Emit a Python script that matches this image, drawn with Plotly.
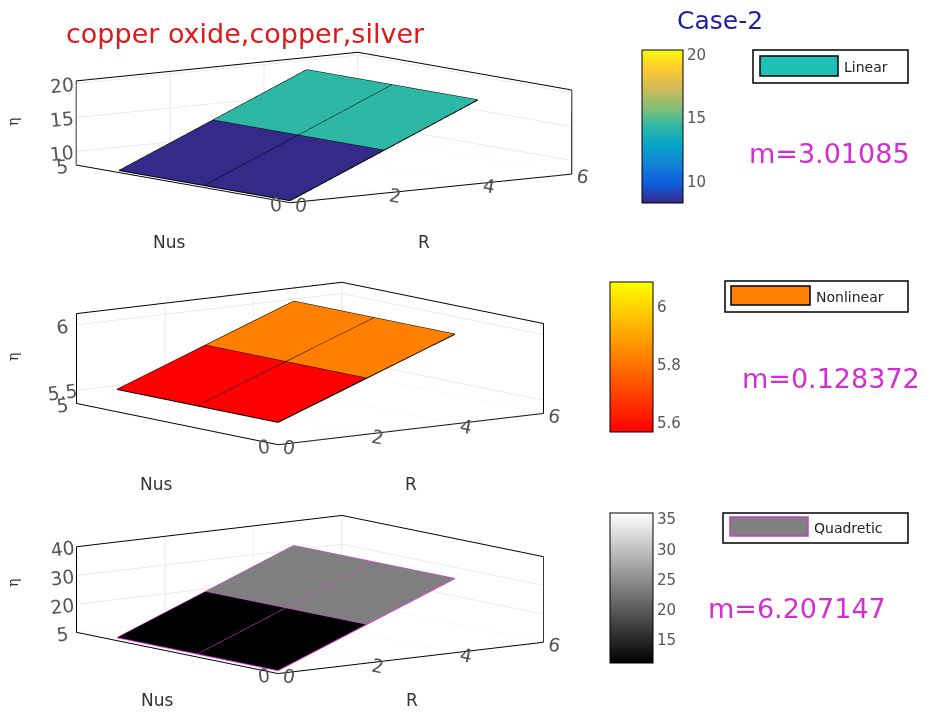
import plotly.graph_objects as go

# ---------------- data ----------------
R = [0, 2, 4]
Nus = [0, 2, 4]
# eta[i][j] : Nus index i, R index j
eta_linear = [[8.30, 14.32, 20.34],
              [8.30, 14.32, 20.34],
              [8.30, 14.32, 20.34]]
eta_nonlinear = [[5.570, 5.827, 6.083],
                 [5.570, 5.827, 6.083],
                 [5.570, 5.827, 6.083]]
eta_quad = [[11.20, 23.61, 36.03],
            [11.20, 23.61, 36.03],
            [11.20, 23.61, 36.03]]

slopes = ["m=3.01085", "m=0.128372", "m=6.207147"]
legend_names = ["Linear", "Nonlinear", "Quadretic"]
cbar_ticks = [[10, 15, 20], [5.6, 5.8, 6], [15, 20, 25, 30, 35]]
z_ticks = [[10, 15, 20], [5.5, 6], [20, 30, 40]]
z_ranges = [[8.0, 20.4], [5.40, 6.085], [10.2, 40]]
R_range = [0, 6]
Nus_range = [0, 5]
R_ticks = [0, 2, 4, 6]
Nus_ticks = [0, 5]

W, H = 936, 715

parula = [[0.0, "#352a87"], [0.125, "#0f5cdd"], [0.25, "#1481d6"], [0.375, "#06a4ca"],
          [0.5, "#2eb7a4"], [0.625, "#87bf77"], [0.75, "#d1bb59"], [0.875, "#fec832"],
          [1.0, "#f9fb0e"]]
autumn = [[0.0, "rgb(255,0,0)"], [1.0, "rgb(255,255,0)"]]
gray = [[0.0, "rgb(0,0,0)"], [1.0, "rgb(255,255,255)"]]


def px(x, y):
    return x / W, 1 - y / H


def flat_expand(xs, ys, zz):
    """Duplicate interior grid lines so each face gets one colour (MATLAB flat shading)."""
    nx, ny = len(xs), len(ys)
    ix = [(k + 1) // 2 for k in range(2 * nx - 2)]
    iy = [(k + 1) // 2 for k in range(2 * ny - 2)]
    fx = [k // 2 for k in range(2 * nx - 2)]
    fy = [k // 2 for k in range(2 * ny - 2)]
    X = [xs[i] for i in ix]
    Y = [ys[j] for j in iy]
    Z = [[zz[j][i] for i in ix] for j in iy]
    C = [[zz[j][i] for i in fx] for j in fy]
    return X, Y, Z, C


def mesh_lines(xs, ys, zz):
    lx, ly, lz = [], [], []
    for j, yv in enumerate(ys):
        for i, xv in enumerate(xs):
            lx.append(xv); ly.append(yv); lz.append(zz[j][i])
        lx.append(None); ly.append(None); lz.append(None)
    for i, xv in enumerate(xs):
        for j, yv in enumerate(ys):
            lx.append(xv); ly.append(yv); lz.append(zz[j][i])
        lx.append(None); ly.append(None); lz.append(None)
    return lx, ly, lz


fig = go.Figure()

datasets = [eta_linear, eta_nonlinear, eta_quad]
scales = [parula, autumn, gray]
edge_colors = ["black", "black", "#e040e0"]
cbar_boxes = [(642, 50, 41, 153), (610, 282, 43, 150), (610, 513, 43, 150)]
# box centres in px (x, y), zoom factors, z-aspect factors, camera elevation factors
box_centres = [(324, 127), (310, 363), (310, 594)]
zooms = [3.29, 3.10, 3.10]
zfac = [0.24, 0.273, 0.26]
elev = [0.134, 0.156, 0.156]
DOM_W, DOM_H = 0.66, 0.30

tick_font = dict(family="DejaVu Sans, Liberation Sans", size=15, color="#555555")
label_font = dict(family="DejaVu Sans, Liberation Sans", size=17, color="#333333")

for k in range(3):
    X, Y, Z, C = flat_expand(R, Nus, datasets[k])
    zmin = min(min(r) for r in datasets[k])
    zmax = max(max(r) for r in datasets[k])
    cx, cy, cw, ch = cbar_boxes[k]
    sc = "scene" if k == 0 else f"scene{k+1}"
    fig.add_trace(go.Surface(
        x=X, y=Y, z=Z, surfacecolor=C, colorscale=scales[k], cmin=zmin, cmax=zmax,
        scene=sc, showscale=True,
        lighting=dict(ambient=1, diffuse=0, specular=0, roughness=1, fresnel=0),
        colorbar=dict(x=cx / W, xanchor="left", y=1 - (cy + ch / 2) / H, yanchor="middle",
                      thickness=cw, thicknessmode="pixels", len=ch, lenmode="pixels",
                      outlinecolor="black", outlinewidth=1, tickvals=cbar_ticks[k],
                      ticks="", tickfont=tick_font, xpad=0, ypad=0),
        hoverinfo="skip",
    ))
    lx, ly, lz = mesh_lines(R, Nus, datasets[k])
    fig.add_trace(go.Scatter3d(x=lx, y=ly, z=lz, mode="lines", scene=sc,
                               line=dict(color=edge_colors[k], width=2),
                               showlegend=False, hoverinfo="skip"))

axis_common = dict(showbackground=False, showgrid=True, gridcolor="#d9d9d9", gridwidth=1,
                   zeroline=False, showline=True, linecolor="black", linewidth=2,
                   mirror=True, ticks="", showspikes=False, tickfont=tick_font,
                   title_text="")

EYE = 9.0
for k in range(3):
    bx, by = box_centres[k]
    xc, yc = px(bx, by)
    s = zooms[k]
    sc = dict(
        domain=dict(x=[xc - DOM_W / 2, xc + DOM_W / 2], y=[yc - DOM_H / 2, yc + DOM_H / 2]),
        xaxis=dict(axis_common, range=R_range, tickvals=R_ticks),
        yaxis=dict(axis_common, range=Nus_range, tickvals=Nus_ticks),
        zaxis=dict(axis_common, range=z_ranges[k], tickvals=z_ticks[k]),
        aspectmode="manual", aspectratio=dict(x=s, y=s, z=zfac[k] * s),
        camera=dict(eye=dict(x=-0.60 * EYE, y=-0.79 * EYE, z=elev[k] * EYE),
                    center=dict(x=0, y=0, z=0), up=dict(x=0, y=0, z=1),
                    projection=dict(type="orthographic")),
    )
    fig.update_layout(**{("scene" if k == 0 else f"scene{k+1}"): sc})

# ---------------- texts ----------------
ann = []
x0, y0 = px(245, 33)
ann.append(dict(x=x0, y=y0, xanchor="center", yanchor="middle", text="copper oxide,copper,silver",
                showarrow=False,
                font=dict(family="DejaVu Sans", size=27, color="#e01818")))
x0, y0 = px(720, 20)
ann.append(dict(x=x0, y=y0, xanchor="center", yanchor="middle", text="Case-2", showarrow=False,
                font=dict(family="DejaVu Sans", size=25, color="#1c1ca8")))
m_pos = [(829, 153), (831, 378), (797, 608)]
for k in range(3):
    x0, y0 = px(*m_pos[k])
    ann.append(dict(x=x0, y=y0, xanchor="center", yanchor="middle", text=slopes[k],
                    showarrow=False,
                    font=dict(family="DejaVu Sans", size=27, color="#d22ed2")))

# axis titles (placed below each 3-D box like MATLAB's xlabel / ylabel / zlabel)
nus_pos = [(169, 242), (156, 484), (157, 700)]
r_pos = [(424, 242), (411, 484), (412, 700)]
eta_pos = [(13, 122), (13, 357), (13, 583)]
for k in range(3):
    x0, y0 = px(*nus_pos[k])
    ann.append(dict(x=x0, y=y0, xanchor="center", yanchor="middle", text="Nus",
                    showarrow=False, font=label_font))
    x0, y0 = px(*r_pos[k])
    ann.append(dict(x=x0, y=y0, xanchor="center", yanchor="middle", text="R",
                    showarrow=False, font=label_font))
    x0, y0 = px(*eta_pos[k])
    ann.append(dict(x=x0, y=y0, xanchor="center", yanchor="middle", text="η", textangle=-90,
                    showarrow=False,
                    font=dict(family="DejaVu Serif, DejaVu Sans", size=14, color="#333333")))

# legend boxes
leg_outer = [(753, 50, 908, 83), (725, 281, 908, 312), (723, 513, 908, 543)]
leg_swatch = [(760, 56, 838, 76), (731, 286, 810, 305), (730, 517, 808, 536)]
swatch_fill = ["#1ebfb4", "#ff8000", "#808080"]
swatch_line = ["black", "black", "#c040c0"]
shapes = []
for k in range(3):
    a, b, c, d = leg_outer[k]
    xa, ya = px(a, b); xc, yc = px(c, d)
    shapes.append(dict(type="rect", xref="paper", yref="paper", x0=xa, y0=ya, x1=xc, y1=yc,
                       line=dict(color="black", width=1.5), fillcolor="white", layer="below"))
    a, b, c, d = leg_swatch[k]
    xa, ya = px(a, b); xc, yc = px(c, d)
    shapes.append(dict(type="rect", xref="paper", yref="paper", x0=xa, y0=ya, x1=xc, y1=yc,
                       line=dict(color=swatch_line[k], width=1.5), fillcolor=swatch_fill[k],
                       layer="above"))
    tx, ty = px(leg_swatch[k][2] + 4, (leg_outer[k][1] + leg_outer[k][3]) / 2)
    ann.append(dict(x=tx, y=ty, xanchor="left", yanchor="middle", text=legend_names[k],
                    showarrow=False,
                    font=dict(family="DejaVu Sans", size=14, color="#222222")))

fig.update_layout(width=W, height=H, margin=dict(l=0, r=0, t=0, b=0),
                  paper_bgcolor="white", plot_bgcolor="white", showlegend=False,
                  annotations=ann, shapes=shapes)

fig.write_html("out.html")
